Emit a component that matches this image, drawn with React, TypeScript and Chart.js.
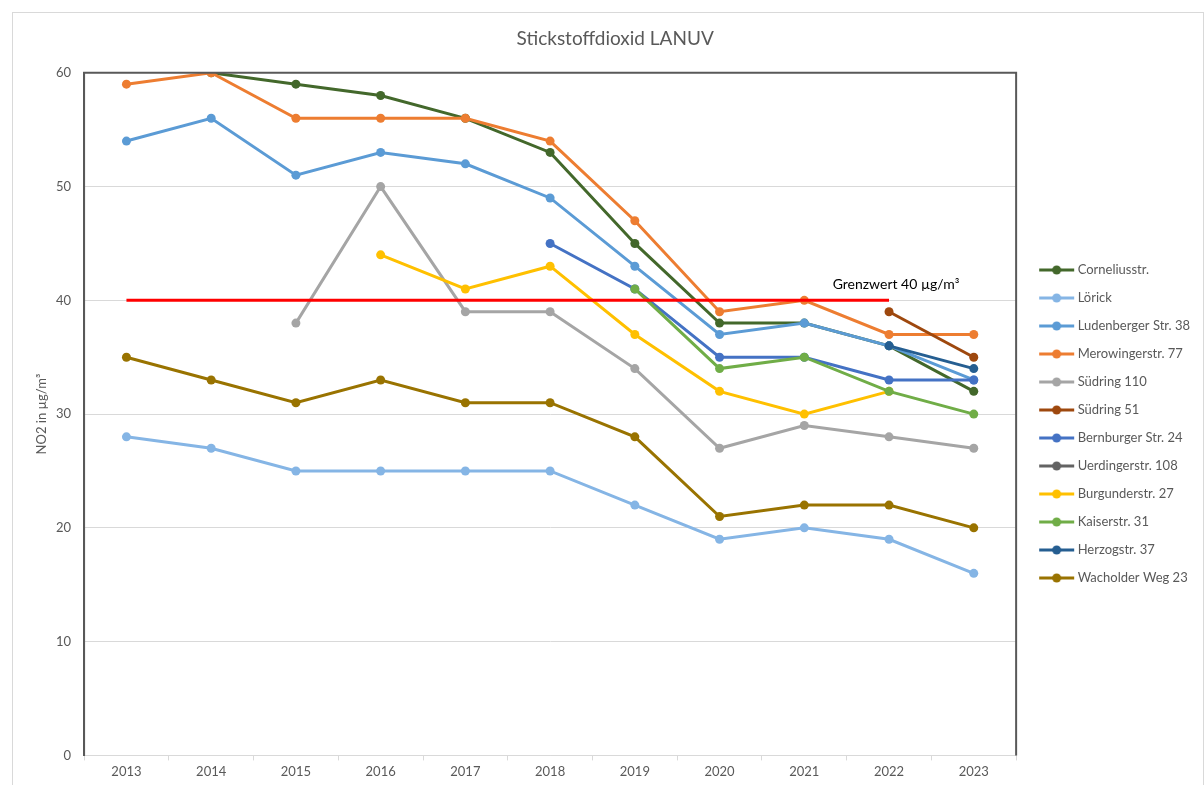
import React, { useEffect, useRef } from "react";
import { Chart, registerables } from "chart.js";

Chart.register(...registerables);

const years = ["2013", "2014", "2015", "2016", "2017", "2018", "2019", "2020", "2021", "2022", "2023"];

const corneliusstr = [null, 60, 59, 58, 56, 53, 45, 38, 38, 36, 32];
const loerick = [28, 27, 25, 25, 25, 25, 22, 19, 20, 19, 16];
const ludenberger = [54, 56, 51, 53, 52, 49, 43, 37, 38, 36, 33];
const merowinger = [59, 60, 56, 56, 56, 54, 47, 39, 40, 37, 37];
const suedring110 = [null, null, 38, 50, 39, 39, 34, 27, 29, 28, 27];
const suedring51 = [null, null, null, null, null, null, null, null, null, 39, 35];
const bernburger = [null, null, null, null, null, 45, 41, 35, 35, 33, 33];
const uerdinger = [null, null, null, null, null, null, null, null, null, null, null];
const burgunder = [null, null, null, 44, 41, 43, 37, 32, 30, 32, null];
const kaiser = [null, null, null, null, null, null, 41, 34, 35, 32, 30];
const herzog = [null, null, null, null, null, null, null, null, null, 36, 34];
const wacholder = [35, 33, 31, 33, 31, 31, 28, 21, 22, 22, 20];
const grenzwert = [40, 40, 40, 40, 40, 40, 40, 40, 40, 40, null];

const seriesNames = [
  "Corneliusstr.",
  "Lörick",
  "Ludenberger Str. 38",
  "Merowingerstr. 77",
  "Südring 110",
  "Südring 51",
  "Bernburger Str. 24",
  "Uerdingerstr. 108",
  "Burgunderstr. 27",
  "Kaiserstr. 31",
  "Herzogstr. 37",
  "Wacholder Weg 23",
];
const seriesData = [
  corneliusstr, loerick, ludenberger, merowinger, suedring110, suedring51,
  bernburger, uerdinger, burgunder, kaiser, herzog, wacholder,
];
const seriesColors = [
  "#43682b", "#85b5e5", "#5b9bd5", "#ed7d31", "#a5a5a5", "#9e480e",
  "#4472c4", "#636363", "#ffc000", "#70ad47", "#255e91", "#997300",
];

const FONT = "Lato, 'Open Sans', sans-serif";

function legendImage(color: string): HTMLCanvasElement {
  const c = document.createElement("canvas");
  c.width = 50;
  c.height = 12;
  const ctx = c.getContext("2d")!;
  ctx.strokeStyle = color;
  ctx.lineWidth = 3;
  ctx.beginPath();
  ctx.moveTo(13, 6);
  ctx.lineTo(48, 6);
  ctx.stroke();
  ctx.fillStyle = color;
  ctx.beginPath();
  ctx.arc(30.5, 6, 4.5, 0, Math.PI * 2);
  ctx.fill();
  return c;
}

const framePlugin = {
  id: "frame",
  afterDatasetsDraw(chart: any) {
    const { ctx, chartArea } = chart;
    ctx.save();
    ctx.strokeStyle = "#595959";
    ctx.lineWidth = 2;
    ctx.beginPath();
    ctx.moveTo(chartArea.left, chartArea.bottom);
    ctx.lineTo(chartArea.left, chartArea.top);
    ctx.lineTo(chartArea.right, chartArea.top);
    ctx.lineTo(chartArea.right, chartArea.bottom);
    ctx.stroke();
    const x = chart.scales.x.getPixelForValue(9) + 7;
    const y = chart.scales.y.getPixelForValue(41.4);
    ctx.fillStyle = "#000000";
    ctx.font = "14px " + FONT;
    ctx.textAlign = "center";
    ctx.textBaseline = "middle";
    ctx.fillText("Grenzwert 40 µg/m³", x, y);
    ctx.restore();
  },
};

export default function App() {
  const ref = useRef<HTMLCanvasElement | null>(null);
  useEffect(() => {
    if (!ref.current) return;
    const n = seriesNames.length;
    const datasets: any[] = seriesNames.map((name, i) => ({
      label: name,
      data: seriesData[i],
      borderColor: seriesColors[i],
      backgroundColor: seriesColors[i],
      pointBackgroundColor: seriesColors[i],
      pointBorderColor: seriesColors[i],
      borderWidth: 3,
      pointRadius: 4.5,
      pointBorderWidth: 0,
      spanGaps: false,
      order: n + 1 - i,
      legendImg: legendImage(seriesColors[i]),
    }));
    datasets.push({
      label: "Grenzwert",
      data: grenzwert,
      borderColor: "#ff0000",
      backgroundColor: "#ff0000",
      borderWidth: 3,
      pointRadius: 0,
      order: 0,
    });
    const chart = new Chart(ref.current, {
      type: "line",
      data: { labels: years, datasets },
      plugins: [framePlugin],
      options: {
        animation: false,
        responsive: false,
        maintainAspectRatio: false,
        layout: { padding: { left: 17.4, right: 3, top: 0, bottom: 1 } },
        plugins: {
          tooltip: { enabled: false },
          title: {
            display: true,
            text: "Stickstoffdioxid LANUV",
            color: "#595959",
            font: { family: FONT, size: 19, weight: "normal" },
            padding: { top: 14, bottom: 23 },
          },
          legend: {
            position: "right",
            title: {
              display: true,
              text: "",
              font: { family: FONT, size: 12 },
              padding: 18.3,
            },
            labels: {
              usePointStyle: true,
              pointStyleWidth: 40,
              padding: 15,
              color: "#595959",
              font: { family: FONT, size: 13 },
              filter: (item: any) => item.text !== "Grenzwert",
              sort: (a: any, b: any) => a.datasetIndex - b.datasetIndex,
              generateLabels: (chart: any) =>
                chart.data.datasets.map((ds: any, i: number) => ({
                  text: ds.label,
                  fillStyle: ds.borderColor,
                  strokeStyle: ds.borderColor,
                  lineWidth: 0,
                  pointStyle: ds.legendImg || "line",
                  datasetIndex: i,
                  hidden: false,
                  fontColor: "#595959",
                })),
            },
          },
        },
        scales: {
          x: {
            offset: true,
            grid: {
              offset: true,
              drawOnChartArea: false,
              drawTicks: true,
              tickLength: 5,
              color: "#d9d9d9",
            },
            border: { color: "#d9d9d9", width: 1 },
            ticks: {
              color: "#595959",
              font: { family: FONT, size: 13 },
              padding: 4,
              maxRotation: 0,
            },
          },
          y: {
            min: 0,
            max: 60,
            ticks: {
              stepSize: 10,
              color: "#595959",
              font: { family: FONT, size: 13 },
              padding: 2,
            },
            grid: {
              color: "#d9d9d9",
              drawTicks: true,
              tickLength: 11,
              tickColor: "rgba(0,0,0,0)",
            },
            border: { color: "#595959", width: 2 },
            title: {
              display: true,
              text: "NO2 in µg/m³",
              color: "#595959",
              font: { family: FONT, size: 13 },
              padding: { top: 4, bottom: 4 },
            },
          },
        },
      },
    });
    return () => chart.destroy();
  }, []);
  return (
    <div
      style={{
        position: "fixed",
        left: 12,
        top: 12,
        width: 1192,
        height: 774,
        border: "1px solid #d9d9d9",
        boxSizing: "border-box",
        background: "#fff",
      }}
    >
      <canvas ref={ref} width={1190} height={772} style={{ display: "block", width: 1190, height: 772 }} />
    </div>
  );
}
